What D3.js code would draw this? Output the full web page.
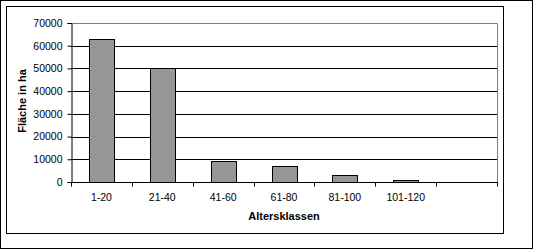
<!DOCTYPE html>
<html>
<head>
    <script src="https://cdnjs.cloudflare.com/ajax/libs/d3/7.8.5/d3.min.js"></script>
    <style>
        body { margin: 0; background: #fff; }
        svg text { font-family: "Liberation Sans", Arial, sans-serif; fill: #000; }
        .tick text { font-size: 10.5px; }
        .title { font-size: 11px; font-weight: bold; }
    </style>
</head>
<body>
<svg id="chart"></svg>
<script>
    const categories = ["1-20", "21-40", "41-60", "61-80", "81-100", "101-120", ""];
    const values = [63000, 50000, 9200, 7000, 3000, 900, null];
    const yTicks = [0, 10000, 20000, 30000, 40000, 50000, 60000, 70000];

    const width = 534, height = 250;
    const plot = { left: 71, top: 23, right: 497, bottom: 182 };

    const svg = d3.select("#chart")
        .attr("width", width)
        .attr("height", height);

    // outer + inner frames
    svg.append("rect")
        .attr("x", 0.5).attr("y", 0.5)
        .attr("width", 532).attr("height", 248)
        .attr("fill", "none").attr("stroke", "#000");
    svg.append("rect")
        .attr("x", 6.5).attr("y", 6.5)
        .attr("width", 497).attr("height", 227)
        .attr("fill", "none").attr("stroke", "#000");

    const x = d3.scaleBand()
        .domain(d3.range(categories.length))
        .range([plot.left, plot.right])
        .paddingInner(0.59)
        .paddingOuter(0.295);

    const y = d3.scaleLinear()
        .domain([0, 70000])
        .range([plot.bottom, plot.top]);

    // gridlines
    svg.append("g")
        .selectAll("line")
        .data(yTicks.slice(1, -1))
        .join("line")
        .attr("x1", plot.left).attr("x2", plot.right)
        .attr("y1", d => Math.round(y(d)) + 0.5)
        .attr("y2", d => Math.round(y(d)) + 0.5)
        .attr("stroke", "#000");

    // plot area border (gray top and right)
    svg.append("path")
        .attr("d", `M${plot.left},${Math.round(y(70000)) + 0.5}H${plot.right + 0.5}V${plot.bottom}`)
        .attr("fill", "none")
        .attr("stroke", "#808080");

    // bars
    svg.append("g")
        .selectAll("rect")
        .data(values.map((v, i) => ({ i, v })).filter(d => d.v != null))
        .join("rect")
        .attr("x", d => Math.round(x(d.i)) + 0.5)
        .attr("y", d => Math.round(y(d.v)) + 0.5)
        .attr("width", Math.round(x.bandwidth()))
        .attr("height", d => Math.round(y(0)) - Math.round(y(d.v)))
        .attr("fill", "#969696")
        .attr("stroke", "#000");

    // y axis
    const yAxis = svg.append("g")
        .attr("transform", `translate(${plot.left + 0.5},0)`)
        .call(d3.axisLeft(y).tickValues(yTicks).tickFormat(d3.format("d")).tickSize(4).tickPadding(5));
    yAxis.select(".domain").attr("stroke", "#000");
    yAxis.selectAll(".tick line").attr("stroke", "#000");

    // x axis with ticks on category boundaries
    const xAxisG = svg.append("g")
        .attr("transform", `translate(0,${plot.bottom + 0.5})`);
    xAxisG.append("line")
        .attr("x1", plot.left).attr("x2", plot.right + 1)
        .attr("stroke", "#000");
    const step = (plot.right - plot.left) / categories.length;
    xAxisG.selectAll(".xt")
        .data(d3.range(categories.length + 1))
        .join("line")
        .attr("class", "xt")
        .attr("x1", i => Math.round(plot.left + i * step) + 0.5)
        .attr("x2", i => Math.round(plot.left + i * step) + 0.5)
        .attr("y1", 0).attr("y2", 4)
        .attr("stroke", "#000");
    xAxisG.selectAll("text")
        .data(categories)
        .join("text")
        .attr("x", (d, i) => plot.left + (i + 0.5) * step)
        .attr("y", 18.5)
        .attr("text-anchor", "middle")
        .style("font-size", "10.5px")
        .text(d => d);

    // axis titles
    svg.append("text")
        .attr("class", "title")
        .attr("transform", `translate(25.5,101) rotate(-90)`)
        .attr("text-anchor", "middle")
        .text("Fläche in ha");

    svg.append("text")
        .attr("class", "title")
        .attr("x", 284)
        .attr("y", 220)
        .attr("text-anchor", "middle")
        .text("Altersklassen");
</script>
</body>
</html>
